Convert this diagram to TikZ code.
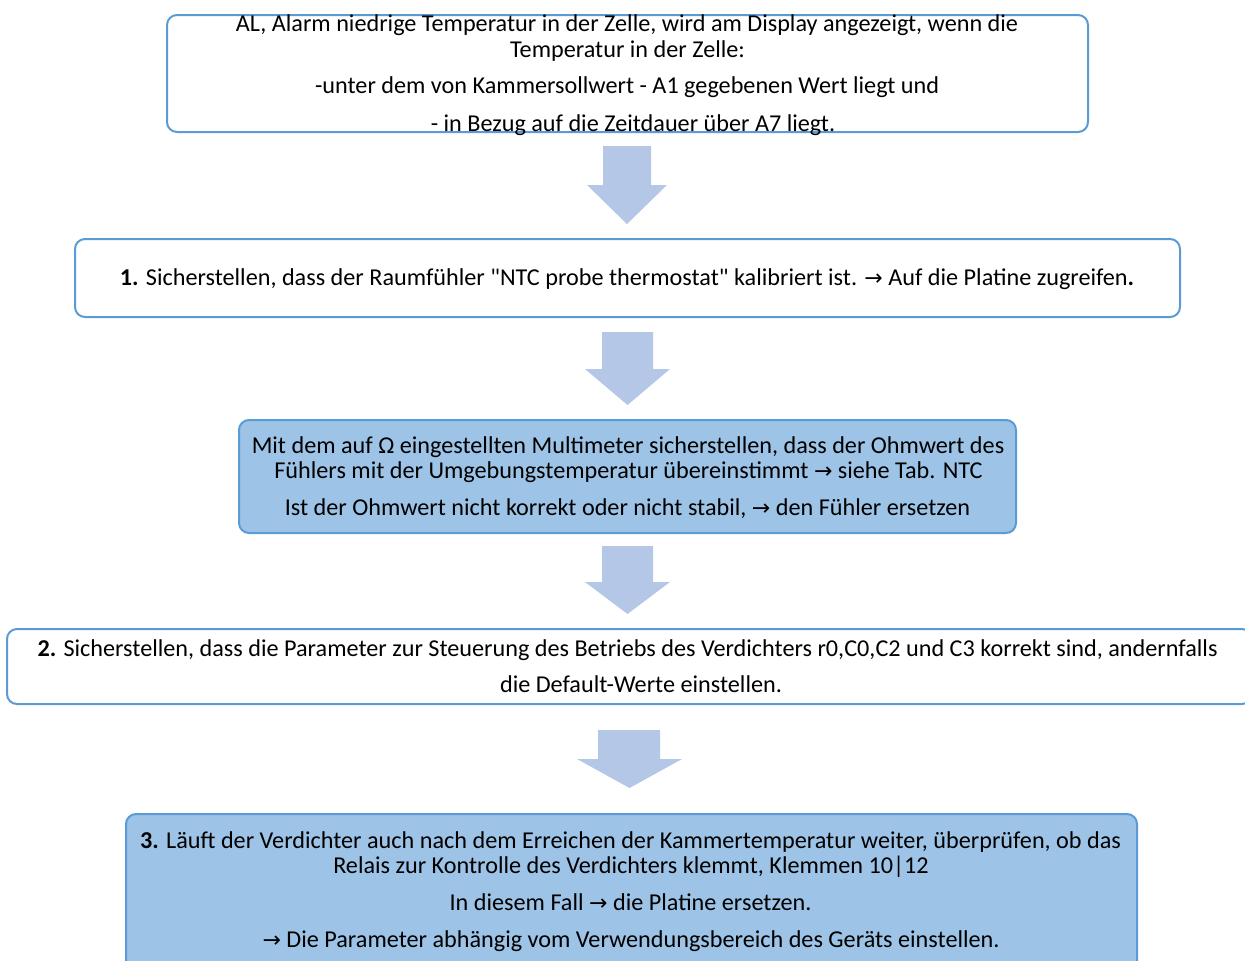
\documentclass[tikz,border=0pt]{standalone}
\usepackage{fontspec}
\setmainfont{Carlito}
\newfontfamily\rawfont{Carlito}[Ligatures=TeXOff]
\newfontfamily\symfont{DejaVu Sans}
\newcommand{\rarr}{{\symfont\fontsize{22}{24}\selectfont →}}
\newcommand{\sq}{{\rawfont\char34\relax}}
\definecolor{bordercol}{HTML}{5B9BD5}
\definecolor{fillcol}{HTML}{9DC3E6}
\definecolor{arrcol}{HTML}{B4C7E7}
\begin{document}
\begin{tikzpicture}[x=1pt,y=-1pt,
  box/.style={draw=bordercol, line width=2pt, rounded corners=10pt, inner sep=0pt},
  whitebox/.style={box, fill=white},
  bluebox/.style={box, fill=fillcol},
  txt/.style={anchor=base, inner sep=0pt, font=\fontsize{24.2}{28}\selectfont},
  blockarrow/.style={fill=arrcol, draw=none}]
\useasboundingbox (0,0) rectangle (1245,961);
\clip (0,0) rectangle (1245,961);
% boxes
\node[whitebox, minimum width=921pt, minimum height=117pt] (boxA) at (627.5,73.5) {};
\node[whitebox, minimum width=1105pt, minimum height=78pt] (box1) at (627.5,278) {};
\node[bluebox, minimum width=777pt, minimum height=113pt] (boxO) at (627.5,476.5) {};
\node[whitebox, minimum width=1245pt, minimum height=75pt] (box2) at (629.5,666.5) {};
\node[bluebox, minimum width=1011pt, minimum height=166pt] (box3) at (631.5,897) {};
% block arrows
\fill[blockarrow] (603,146) -- (651,146) -- (651,185) -- (667,185) -- (627,224) -- (587,185) -- (603,185) -- cycle;
\fill[blockarrow] (602,332) -- (653,332) -- (653,369) -- (670,369) -- (627.5,405) -- (585,369) -- (602,369) -- cycle;
\fill[blockarrow] (602,546) -- (653,546) -- (653,582) -- (670,582) -- (627.5,614) -- (585,582) -- (602,582) -- cycle;
\fill[blockarrow] (598,730) -- (660,730) -- (660,759) -- (682,759) -- (629.5,788) -- (577,759) -- (598,759) -- cycle;
% texts box A
\node[txt] (a1) at (627,31) {AL, Alarm niedrige Temperatur in der Zelle, wird am Display angezeigt, wenn die};
\node[txt] (a2) at (627.5,57) {Temperatur in der Zelle:};
\node[txt] (a3) at (627,93) {-unter dem von Kammersollwert - A1 gegebenen Wert liegt und};
\node[txt] (a4) at (633,131) {- in Bezug auf die Zeitdauer über A7 liegt.};
% box 1
\node[txt] (b1) at (627,285) {\textbf{1.} Sicherstellen, dass der Raumfühler \sq NTC probe thermostat\sq{} kalibriert ist. \rarr{} Auf die Platine zugreifen\textbf{.}};
% box Omega
\node[txt] (o1) at (628,453) {Mit dem auf Ω eingestellten Multimeter sicherstellen, dass der Ohmwert des};
\node[txt] (o2) at (628.5,478) {Fühlers mit der Umgebungstemperatur übereinstimmt \rarr{} siehe Tab. NTC};
\node[txt] (o3) at (627.5,515) {Ist der Ohmwert nicht korrekt oder nicht stabil, \rarr{} den Fühler ersetzen};
% box 2
\node[txt] (c1) at (627.5,656) {\textbf{2.} Sicherstellen, dass die Parameter zur Steuerung des Betriebs des Verdichters r0,C0,C2 und C3 korrekt sind, andernfalls};
\node[txt] (c2) at (641,692) {die Default-Werte einstellen.};
% box 3
\node[txt] (d1) at (630.5,848) {\textbf{3.} Läuft der Verdichter auch nach dem Erreichen der Kammertemperatur weiter, überprüfen, ob das};
\node[txt] (d2) at (631,873) {Relais zur Kontrolle des Verdichters klemmt, Klemmen 10|12};
\node[txt] (d3) at (630.5,910) {In diesem Fall \rarr{} die Platine ersetzen.};
\node[txt] (d4) at (631,947) {\rarr{} Die Parameter abhängig vom Verwendungsbereich des Geräts einstellen.};
\end{tikzpicture}
\end{document}
